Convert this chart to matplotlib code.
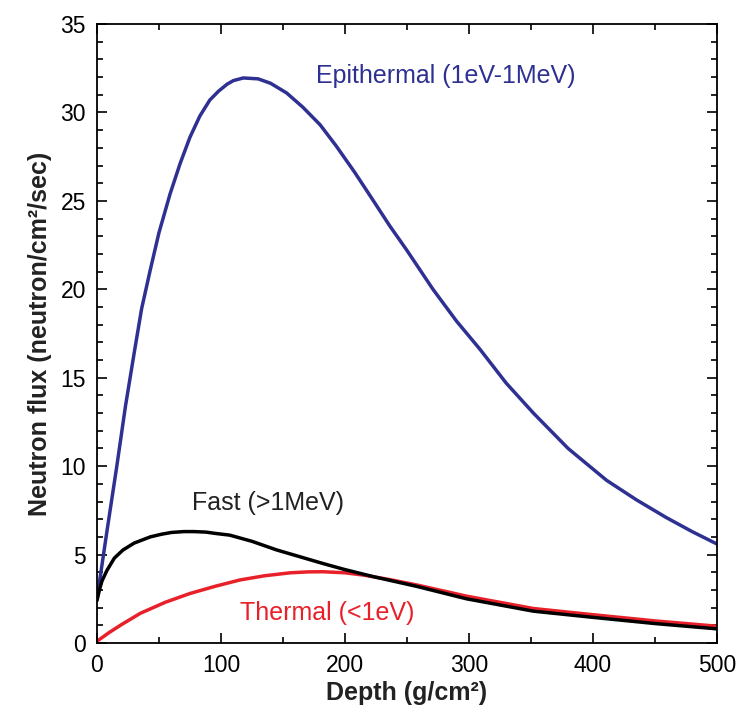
"""plot.py - Neutron flux vs depth"""

import matplotlib
matplotlib.use("Agg")
import matplotlib.pyplot as plt
from matplotlib.ticker import MultipleLocator

# === DATA ===
EPI_DEPTH = [0, 8, 16, 23, 30, 36, 43, 50, 59, 67, 75, 83, 91, 98, 105, 110,
             118, 130, 140, 153, 166, 180, 193, 208, 223, 236, 250, 271, 290,
             309, 330, 352, 380, 411, 435, 459, 480, 500]
EPI_FLUX = [2.5, 6.3, 10.0, 13.4, 16.4, 18.9, 21.1, 23.2, 25.4, 27.1, 28.6,
            29.8, 30.7, 31.2, 31.6, 31.8, 31.95, 31.9, 31.65, 31.1, 30.3,
            29.3, 28.1, 26.6, 25.0, 23.6, 22.2, 20.0, 18.2, 16.6, 14.7, 13.0,
            11.0, 9.2, 8.1, 7.1, 6.3, 5.6]

FAST_DEPTH = [0, 2, 4, 8, 14, 21, 30, 43, 52, 60, 70, 78, 88, 95, 107, 125,
              145, 165, 182, 200, 223, 258, 298, 352, 400, 450, 500]
FAST_FLUX = [2.4, 3.0, 3.5, 4.1, 4.8, 5.26, 5.65, 6.0, 6.15, 6.25, 6.3, 6.3,
             6.27, 6.2, 6.1, 5.75, 5.26, 4.85, 4.5, 4.15, 3.75, 3.2, 2.5, 1.8,
             1.45, 1.1, 0.8]

THERM_DEPTH = [0, 10, 20, 35, 55, 75, 95, 115, 135, 156, 170, 182, 200, 215,
               235, 258, 298, 352, 400, 450, 500]
THERM_FLUX = [0.1, 0.6, 1.05, 1.68, 2.3, 2.8, 3.2, 3.56, 3.8, 3.97, 4.02,
              4.03, 3.97, 3.84, 3.6, 3.28, 2.65, 1.95, 1.6, 1.25, 0.95]

BLUE = "#2e3192"
RED = "#e8202a"

plt.rcParams["font.family"] = ["Liberation Sans", "DejaVu Sans"]

fig = plt.figure(figsize=(7.38, 7.15), dpi=100)
ax = fig.add_axes([0.1314, 0.1007, 0.84, 0.8657])

ax.plot(EPI_DEPTH, EPI_FLUX, color=BLUE, lw=2.5, solid_capstyle="round")
ax.plot(THERM_DEPTH, THERM_FLUX, color=RED, lw=2.5, solid_capstyle="round")
ax.plot(FAST_DEPTH, FAST_FLUX, color="black", lw=2.5, solid_capstyle="round")

ax.set_xlim(0, 500)
ax.set_ylim(0, 35)
ax.xaxis.set_major_locator(MultipleLocator(100))
ax.xaxis.set_minor_locator(MultipleLocator(50))
ax.yaxis.set_major_locator(MultipleLocator(5))
ax.yaxis.set_minor_locator(MultipleLocator(1))
ax.tick_params(which="both", direction="in", top=True, right=True,
               width=1.2, labelsize=16.5, colors="black")
ax.tick_params(which="major", length=7, pad=8)
ax.tick_params(which="minor", length=4)
for s in ax.spines.values():
    s.set_linewidth(1.3)

ax.set_xlabel("Depth (g/cm²)", fontsize=18, fontweight="bold", labelpad=3,
              color="#222222")
ax.set_ylabel("Neutron flux (neutron/cm²/sec)", fontsize=18,
              fontweight="bold", labelpad=6, color="#222222")

ax.text(281, 31.65, "Epithermal (1eV-1MeV)", color=BLUE, fontsize=18,
        ha="center", va="baseline")
ax.text(138, 7.5, "Fast (>1MeV)", color="#222222", fontsize=18,
        ha="center", va="baseline")
ax.text(186, 1.3, "Thermal (<1eV)", color=RED, fontsize=18,
        ha="center", va="baseline")

fig.savefig("out.png", dpi=100)
